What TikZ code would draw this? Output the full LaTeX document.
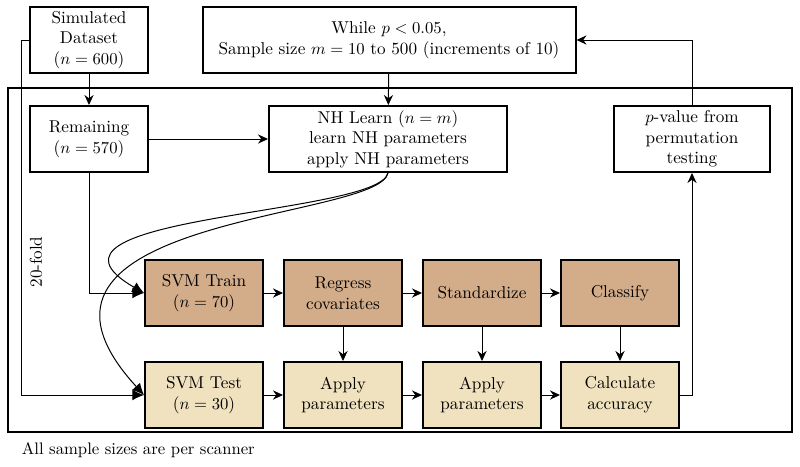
\documentclass[tikz,border=0pt]{standalone}
\usepackage{amsmath}
\usepackage{xcolor}
\usetikzlibrary{arrows.meta}
\definecolor{trainbrown}{RGB}{211, 173, 138}
\definecolor{testcream}{RGB}{240, 226, 191}

\tikzset{
    stage/.style={draw, line width=1.2pt, minimum width=70.8pt, minimum height=39.6pt, align=center, inner sep=2pt, font=\fontsize{10.3}{12.4}\selectfont},
    trainbox/.style={stage, fill=trainbrown},
    testbox/.style={stage, fill=testcream},
    flow/.style={line width=0.6pt, -{Stealth[length=6pt, width=5.5pt]}},
    bigflow/.style={line width=0.6pt, -{Latex[length=7pt, width=6.5pt]}}
}

\begin{document}
\begin{tikzpicture}[x=0.6pt, y=-0.6pt]
        \useasboundingbox (0,0) rectangle (800,466);

        % outer loop frame
        \draw[line width=1.2pt] (8,88) rectangle (792,432);

        \node[stage] (sim) at (89,40) {Simulated\\Dataset\\($n = 600$)};
        \node[stage, minimum width=223.8pt] (while) at (389,40) {While $p < 0.05$,\\Sample size $m = 10$ to 500 (increments of 10)};
        \node[stage] (rem) at (89,139) {Remaining\\($n = 570$)};
        \node[stage, minimum width=142.8pt] (nh) at (388,139) {NH Learn ($n = m$)\\learn NH parameters\\apply NH parameters};
        \node[stage, minimum width=93.6pt] (pval) at (692,139) {$p$-value from\\permutation\\testing};

        % training row
        \node[trainbox] (train) at (204,293) {SVM Train\\($n = 70$)};
        \node[trainbox] (regress) at (343,293) {Regress\\covariates};
        \node[trainbox] (stand) at (482,293) {Standardize};
        \node[trainbox] (classify) at (620,293) {Classify};

        % testing row
        \node[testbox] (test) at (204,395) {SVM Test\\($n = 30$)};
        \node[testbox] (applyA) at (343,395) {Apply\\parameters};
        \node[testbox] (applyB) at (482,395) {Apply\\parameters};
        \node[testbox] (calc) at (620,395) {Calculate\\accuracy};

        \node[rotate=90, font=\fontsize{10.3}{12.4}\selectfont] (fold) at (36,262) {20-fold};
        \node[anchor=west] (note) at (16,450) {All sample sizes are per scanner};

        \draw[flow] (sim) -- (rem);
        \draw[bigflow] (sim.west) -- ++(-8,0) |- (test.west);
        \draw[flow] (rem) -- (nh);
        \draw[bigflow] (rem.south) |- (train.west);
        \draw[flow] (while) -- (nh);
        \draw[bigflow] (nh.south) .. controls +(-10,43) and +(-135,-78) .. (train.west);
        \draw[bigflow] (nh.south) .. controls +(-10,48) and +(-165,-180) .. (test.west);

        \foreach \a/\b in {train/regress, regress/stand, stand/classify, test/applyA, applyA/applyB, applyB/calc, regress/applyA, stand/applyB, classify/calc}
            \draw[flow] (\a) -- (\b);

        \draw[flow] (calc.east) -| (pval.south);
        \draw[flow] (pval.north) |- (while.east);
    \end{tikzpicture}
\end{document}
